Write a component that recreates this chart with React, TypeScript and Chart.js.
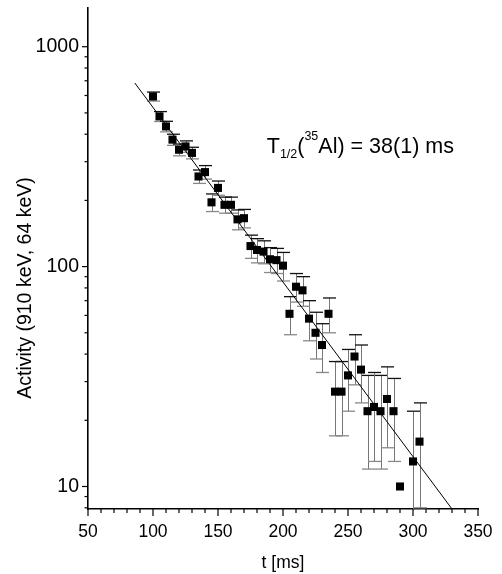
import React, { useEffect, useRef } from 'react';
import { Chart, registerables } from 'chart.js';

Chart.register(...registerables);

// ---- data ----
const times = [100, 105, 110, 115, 120, 125, 130, 135, 140, 145, 150, 155, 160, 165, 170, 175, 180, 185, 190, 195, 200, 205, 210, 215, 220, 225, 230, 235, 240, 245, 250, 255, 260, 265, 270, 275, 280, 285, 290, 300, 305];
const activity = [594, 482, 434, 378, 340, 352, 329, 257, 269, 196, 228, 191, 191, 164, 166, 124, 119, 117, 108, 107, 101, 61, 81, 78, 58, 50, 44, 61, 27, 27, 32, 39, 34, 22, 23, 22, 25, 22, 10, 13, 16];
const errors = [28, 25, 24, 22, 21, 21, 20, 18, 19, 18, 17, 16, 16, 17, 16, 15, 15, 14, 14, 14, 15, 12, 12, 12, 12, 12, 11, 11, 10, 10, 10, 10, 10, 10, 10, 10, 10, 9, 0, 9, 8];

const fitT = [86, 330];
const fitActivity = [684, 7.9];

const xMajorTicks = [50, 100, 150, 200, 250, 300, 350];
const xMinorTicks = [60, 70, 80, 90, 110, 120, 130, 140, 160, 170, 180, 190, 210, 220, 230, 240, 260, 270, 280, 290, 310, 320, 330, 340];
const yMajorTicks = [10, 100, 1000];
const yMinorTicks = [8, 9, 20, 30, 40, 50, 60, 70, 80, 90, 200, 300, 400, 500, 600, 700, 800, 900];

const xTitle = 't [ms]';
const yTitle = 'Activity (910 keV, 64 keV)';
const FONT = '"Liberation Sans", Arial, Helvetica, sans-serif';

const errorBarPlugin = {
  id: 'errorBars',
  beforeDatasetsDraw(chart: any) {
    const { ctx, chartArea, scales } = chart;
    const xs = scales.x, ys = scales.y;
    ctx.save();
    ctx.beginPath();
    ctx.rect(chartArea.left, chartArea.top, chartArea.right - chartArea.left, chartArea.bottom - chartArea.top + 1);
    ctx.clip();
    const cap = 6.5;
    times.forEach((t, i) => {
      const e = errors[i];
      if (!e) return;
      const px = Math.round(xs.getPixelForValue(t)) + 0.5;
      const hi = ys.getPixelForValue(activity[i] + e);
      const loVal = activity[i] - e;
      const lo = loVal > 0 ? ys.getPixelForValue(loVal) : chartArea.bottom + 10;
      ctx.lineWidth = 1;
      ctx.strokeStyle = '#777';
      ctx.beginPath();
      ctx.moveTo(px, hi);
      ctx.lineTo(px, lo);
      ctx.stroke();
      ctx.strokeStyle = '#111';
      ctx.lineWidth = 1.3;
      ctx.beginPath();
      ctx.moveTo(px - cap, hi);
      ctx.lineTo(px + cap, hi);
      ctx.stroke();
      ctx.strokeStyle = '#888';
      ctx.beginPath();
      ctx.moveTo(px - cap, lo);
      ctx.lineTo(px + cap, lo);
      ctx.stroke();
    });
    ctx.restore();
  },
};

const ticksPlugin = {
  id: 'customTicks',
  afterDraw(chart: any) {
    const { ctx, chartArea, scales } = chart;
    const xs = scales.x, ys = scales.y;
    ctx.save();
    ctx.strokeStyle = '#000';
    ctx.lineWidth = 1.2;
    const b = chartArea.bottom;
    const l = chartArea.left;
    xMajorTicks.forEach((v) => {
      const p = xs.getPixelForValue(v);
      ctx.beginPath(); ctx.moveTo(p, b); ctx.lineTo(p, b + 7); ctx.stroke();
    });
    xMinorTicks.forEach((v) => {
      const p = xs.getPixelForValue(v);
      ctx.beginPath(); ctx.moveTo(p, b); ctx.lineTo(p, b + 4); ctx.stroke();
    });
    yMajorTicks.forEach((v) => {
      const p = ys.getPixelForValue(v);
      ctx.beginPath(); ctx.moveTo(l, p); ctx.lineTo(l - 6, p); ctx.stroke();
    });
    yMinorTicks.forEach((v) => {
      const p = ys.getPixelForValue(v);
      ctx.beginPath(); ctx.moveTo(l, p); ctx.lineTo(l - 3.5, p); ctx.stroke();
    });
    // y axis title
    ctx.fillStyle = '#000';
    ctx.font = `19.5px ${FONT}`;
    ctx.textAlign = 'center';
    ctx.textBaseline = 'middle';
    ctx.translate(26, 288);
    ctx.rotate(-Math.PI / 2);
    ctx.fillText(yTitle, 0, 0);
    ctx.restore();
  },
};

const annotationPlugin = {
  id: 'halfLifeLabel',
  afterDraw(chart: any) {
    const { ctx, scales } = chart;
    let x = scales.x.getPixelForValue(187.5);
    const y = scales.y.getPixelForValue(330);
    ctx.save();
    ctx.fillStyle = '#000';
    ctx.textBaseline = 'alphabetic';
    ctx.textAlign = 'left';
    const big = `21.5px ${FONT}`;
    const small = `12.5px ${FONT}`;
    const parts: [string, string, number][] = [
      ['T', big, 0],
      ['1/2', small, 5],
      ['(', big, 0],
      ['35', small, -13],
      ['Al) = 38(1) ms', big, 0],
    ];
    parts.forEach(([s, f, dy]) => {
      ctx.font = f;
      ctx.fillText(s, x, y + dy);
      x += ctx.measureText(s).width;
    });
    ctx.restore();
  },
};

export default function App() {
  const ref = useRef<HTMLCanvasElement | null>(null);
  useEffect(() => {
    if (!ref.current) return;
    const chart = new Chart(ref.current, {
      type: 'scatter',
      data: {
        datasets: [
          {
            type: 'scatter',
            data: times.map((t, i) => ({ x: t, y: activity[i] })),
            pointStyle: 'rect',
            pointRadius: 5.7,
            pointHoverRadius: 5.7,
            backgroundColor: '#000',
            borderWidth: 0,
            order: 1,
          },
          {
            type: 'line',
            data: fitT.map((t, i) => ({ x: t, y: fitActivity[i] })),
            borderColor: '#000',
            borderWidth: 1,
            pointRadius: 0,
            fill: false,
            order: 0,
          } as any,
        ],
      },
      options: {
        animation: false,
        responsive: false,
        events: [],
        layout: { padding: { left: 0, right: 24, top: 8, bottom: 0 } },
        plugins: { legend: { display: false }, tooltip: { enabled: false } },
        scales: {
          x: {
            type: 'linear',
            min: 50,
            max: 350,
            afterFit: (s: any) => { s.height = 65; s.paddingLeft = 0; s.paddingRight = 0; },
            afterBuildTicks: (s: any) => { s.ticks = xMajorTicks.map((v) => ({ value: v })); },
            ticks: { color: '#000', font: { family: FONT, size: 17.5 }, padding: 13, maxRotation: 0, callback: (v: any) => String(v) },
            grid: { display: false, drawTicks: false },
            border: { display: true, color: '#000', width: 1.6 },
            title: { display: true, text: xTitle, color: '#000', font: { family: FONT, size: 17.5 }, padding: { top: 0, bottom: 0 } },
          },
          y: {
            type: 'logarithmic',
            min: 7.9,
            max: 1500,
            afterFit: (s: any) => { s.width = 88; s.paddingTop = 0; s.paddingBottom = 0; },
            afterBuildTicks: (s: any) => { s.ticks = yMajorTicks.map((v) => ({ value: v })); },
            ticks: { color: '#000', font: { family: FONT, size: 19.5 }, padding: 9, callback: (v: any) => String(v) },
            grid: { display: false, drawTicks: false },
            border: { display: true, color: '#000', width: 1.6 },
            title: { display: false },
          },
        },
      },
      plugins: [errorBarPlugin, ticksPlugin, annotationPlugin],
    });
    return () => chart.destroy();
  }, []);
  return (
    <div style={{ position: 'fixed', left: 0, top: 0, width: 502, height: 574, background: '#fff' }}>
      <canvas ref={ref} width={502} height={574} style={{ display: 'block' }} />
    </div>
  );
}
